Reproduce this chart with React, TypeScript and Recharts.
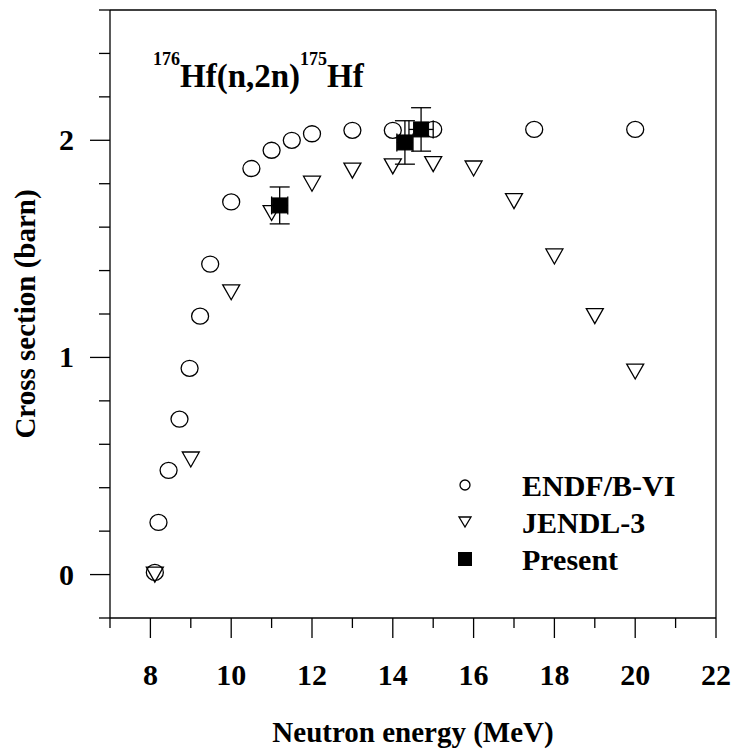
import React from 'react';
import { ScatterChart, Scatter, XAxis, YAxis, ErrorBar, ReferenceLine, Customized } from 'recharts';

// ---- data ----
const endfEnergy = [8.11, 8.2, 8.45, 8.72, 8.97, 9.23, 9.48, 10, 10.5, 11, 11.5, 12, 13, 14, 15, 17.5, 20];
const endfXS = [0.01, 0.24, 0.48, 0.716, 0.95, 1.19, 1.43, 1.716, 1.87, 1.954, 2.0, 2.03, 2.046, 2.046, 2.05, 2.05, 2.05];

const jendlEnergy = [8.11, 9, 10, 11, 12, 13, 14, 15, 16, 17, 18, 19, 20];
const jendlXS = [0.0, 0.53, 1.3, 1.665, 1.8, 1.86, 1.88, 1.89, 1.87, 1.72, 1.465, 1.19, 0.935];

const presentEnergy = [11.2, 14.3, 14.7];
const presentXS = [1.7, 1.99, 2.05];
const presentEnergyErr = [0.2, 0.2, 0.3];
const presentXSErr = [0.085, 0.1, 0.1];

const xTicks = [7, 8, 9, 10, 11, 12, 13, 14, 15, 16, 17, 18, 19, 20, 21, 22];
const xMajorTicks = [8, 10, 12, 14, 16, 18, 20, 22];
const yTicks = [-0.2, 0, 0.2, 0.4, 0.6, 0.8, 1, 1.2, 1.4, 1.6, 1.8, 2, 2.2, 2.4, 2.6];
const yMajorTicks = [0, 1, 2];

const seriesNames = ['ENDF/B-VI', 'JENDL-3', 'Present'];
const xTitle = 'Neutron energy (MeV)';
const yTitle = 'Cross section (barn)';
const reactionTitle = { preMass: '176', target: 'Hf(n,2n)', postMass: '175', product: 'Hf' };

const endfData = endfEnergy.map((e, i) => ({ e, xs: endfXS[i] }));
const jendlData = jendlEnergy.map((e, i) => ({ e, xs: jendlXS[i] }));
const presentData = presentEnergy.map((e, i) => ({ e, xs: presentXS[i], ex: presentEnergyErr[i], ey: presentXSErr[i] }));

const FONT = '"Liberation Serif", "Times New Roman", serif';
const SW = 1.3;

const near = (a: number, list: number[]) => list.some((b) => Math.abs(a - b) < 1e-6);

const circleShape = (rx: number, ry: number) => (p: any) => (
  <ellipse cx={p.cx} cy={p.cy} rx={rx} ry={ry} fill="none" stroke="#000" strokeWidth={SW} />
);
const triangleShape = (w: number, h: number) => (p: any) => (
  <polygon
    points={`${p.cx - w / 2},${p.cy - h / 2} ${p.cx + w / 2},${p.cy - h / 2} ${p.cx},${p.cy + h / 2}`}
    fill="none"
    stroke="#000"
    strokeWidth={SW}
  />
);
const squareShape = (s: number) => (p: any) => (
  <rect x={p.cx - s / 2} y={p.cy - s / 2} width={s} height={s} fill="#000" stroke="#000" strokeWidth={1} />
);

const XTick = (props: any) => {
  const { x, y, payload } = props;
  const v = payload.value;
  const major = near(v, xMajorTicks);
  return (
    <g>
      <line x1={x} y1={y} x2={x} y2={y + (major ? 20 : 10)} stroke="#000" strokeWidth={SW} />
      {major && (
        <text x={x} y={y + 67} textAnchor="middle" fontFamily={FONT} fontWeight="bold" fontSize={30} fill="#000">
          {v}
        </text>
      )}
    </g>
  );
};

const YTick = (props: any) => {
  const { x, y, payload } = props;
  const v = payload.value;
  const major = near(v, yMajorTicks);
  return (
    <g>
      <line x1={x} y1={y} x2={x - (major ? 20 : 11)} y2={y} stroke="#000" strokeWidth={SW} />
      {major && (
        <text x={x - 36} y={y + 10} textAnchor="end" fontFamily={FONT} fontWeight="bold" fontSize={30} fill="#000">
          {Math.round(v)}
        </text>
      )}
    </g>
  );
};

const Overlay = () => {
  const legendShapes = [circleShape(5, 5), triangleShape(12, 10), squareShape(13)];
  const rowsY = [485, 522, 559];
  return (
    <g>
      <text x={153} y={87} fontFamily={FONT} fontWeight="bold" fontSize={33} fill="#000">
        <tspan fontSize={18} dy={-22}>{reactionTitle.preMass}</tspan>
        <tspan dy={22}>{reactionTitle.target}</tspan>
        <tspan fontSize={18} dy={-22}>{reactionTitle.postMass}</tspan>
        <tspan dy={22}>{reactionTitle.product}</tspan>
      </text>
      {seriesNames.map((name, i) => (
        <g key={name}>
          {legendShapes[i]({ cx: 465, cy: rowsY[i] })}
          <text x={522} y={rowsY[i] + 11} fontFamily={FONT} fontWeight="bold" fontSize={30} fill="#000">
            {name}
          </text>
        </g>
      ))}
      <text x={413} y={742} textAnchor="middle" fontFamily={FONT} fontWeight="bold" fontSize={29} fill="#000">
        {xTitle}
      </text>
      <text
        x={35}
        y={314}
        transform="rotate(-90, 35, 314)"
        textAnchor="middle"
        fontFamily={FONT}
        fontWeight="bold"
        fontSize={29}
        fill="#000"
      >
        {yTitle}
      </text>
    </g>
  );
};

export default function App() {
  return (
    <div style={{ position: 'absolute', left: 0, top: 0, width: 736, height: 751, background: '#fff' }}>
      <ScatterChart width={736} height={751} margin={{ top: 10, right: 20, bottom: 33, left: 10 }}>
        <XAxis
          type="number"
          dataKey="e"
          domain={[7, 22]}
          ticks={xTicks}
          interval={0}
          tickLine={false}
          tickSize={0}
          tickMargin={0}
          tick={<XTick />}
          height={100}
          axisLine={{ stroke: '#000', strokeWidth: SW }}
          allowDataOverflow
        />
        <YAxis
          type="number"
          dataKey="xs"
          domain={[-0.2, 2.6]}
          ticks={yTicks}
          interval={0}
          tickLine={false}
          tickSize={0}
          tickMargin={0}
          tick={<YTick />}
          width={100}
          axisLine={{ stroke: '#000', strokeWidth: SW }}
          allowDataOverflow
        />
        <ReferenceLine y={2.6} stroke="#000" strokeWidth={SW} />
        <ReferenceLine x={22} stroke="#000" strokeWidth={SW} />
        <Scatter name={seriesNames[0]} data={endfData} shape={circleShape(8.5, 8)} isAnimationActive={false} />
        <Scatter name={seriesNames[1]} data={jendlData} shape={triangleShape(17, 15)} isAnimationActive={false} />
        <Scatter name={seriesNames[2]} data={presentData} shape={squareShape(15)} isAnimationActive={false}>
          <ErrorBar dataKey="ey" direction="y" width={10} stroke="#000" strokeWidth={SW} />
          <ErrorBar dataKey="ex" direction="x" width={9} stroke="#000" strokeWidth={SW} />
        </Scatter>
        <Customized component={Overlay} />
      </ScatterChart>
    </div>
  );
}
